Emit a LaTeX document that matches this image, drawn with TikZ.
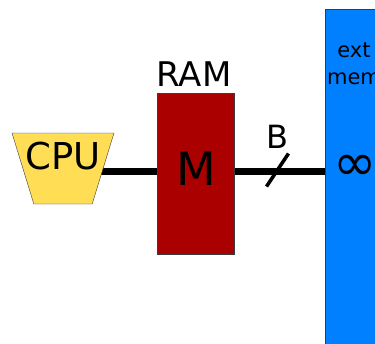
\documentclass[tikz,border=0pt]{standalone}
\usepackage{fontspec}
\setmainfont{DejaVu Sans}
\usetikzlibrary{shapes.geometric, positioning, backgrounds, calc}

\definecolor{cpuyellow}{RGB}{255,221,85}
\definecolor{ramred}{RGB}{170,0,0}
\definecolor{extblue}{RGB}{0,128,255}
\definecolor{edgegray}{RGB}{60,60,60}

\begin{document}
\begin{tikzpicture}[
    x=1pt, y=-1pt,
    bus/.style={line width=7pt, black},
    slash/.style={line width=3.5pt, black},
    cpubox/.style={draw=edgegray, thin, fill=cpuyellow, trapezium, shape border rotate=180,
        trapezium stretches=true, trapezium left angle=69.5, trapezium right angle=69.5,
        minimum width=102pt, minimum height=71pt, inner sep=1pt},
    rambox/.style={draw=edgegray, thin, fill=ramred, rectangle, minimum width=77pt, minimum height=161pt, inner sep=0pt},
    extbox/.style={draw=edgegray, thin, fill=extblue, rectangle, minimum width=60pt, minimum height=400pt, inner sep=0pt},
    txt/.style={inner sep=0pt, font=\fontsize{#1}{#1}\selectfont}
]
\clip (0,0) rectangle (375,343);
\useasboundingbox (0,0) rectangle (375,343);
\node[cpubox] (cpu) at (63,168.5) {};
\node[txt=37] (cputext) at (63,156) {CPU};
\node[rambox] (ram) at (195.5,173.5) {};
\node[txt=46] (ramtext) at (196,169) {M};
\node[txt=34] (ramlabel) at (194,74) {RAM};
\node[extbox, anchor=north west] (ext) at (325,9) {};
\node[inner sep=0pt, align=center, font=\fontsize{21}{26.7}\selectfont] (extlabel) at (354,64) {ext\\mem};
\node[txt=52] (exttext) at (355.5,168.3) {∞};
\coordinate (bus) at (0,171);
\begin{scope}[on background layer]
    \draw[bus] (cpu.center |- bus) -- (ram.center |- bus);
    \draw[bus] (ram.center |- bus) -- (ext.west |- bus);
\end{scope}
% width of the memory bus
\coordinate (cut) at (277.5,170);
\draw[slash] (cut) ++(-11,16.5) -- ++(22,-33);
\node[txt=32] (buslabel) at (277,137) {B};
\end{tikzpicture}
\end{document}
